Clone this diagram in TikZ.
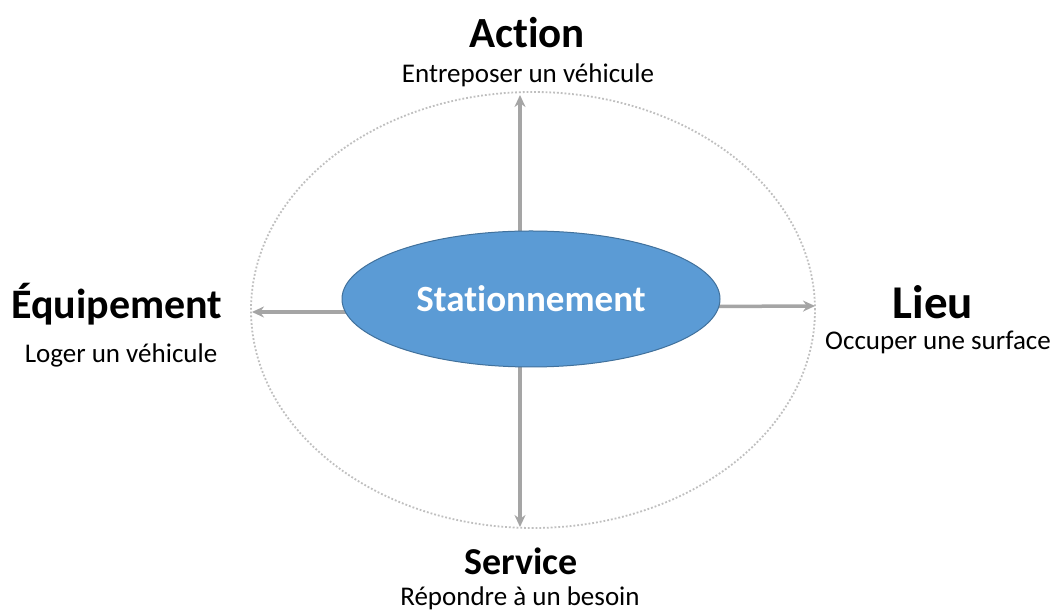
\documentclass[tikz,border=0pt]{standalone}
\usepackage{fontspec}
\setmainfont{Carlito}[Ligatures={NoCommon}]
\usetikzlibrary{arrows.meta,shapes.geometric}
\definecolor{blueFill}{HTML}{5B9BD5}
\definecolor{blueLine}{HTML}{41719C}
\definecolor{arrowGray}{HTML}{A5A5A5}
\definecolor{dotGray}{HTML}{BFBFBF}
\tikzset{
  conn/.style={draw=arrowGray, line width=3.5pt, -{Stealth[length=12pt,width=11pt]}},
  title/.style={font=\fontsize{#1}{#1}\selectfont\bfseries, inner sep=0pt},
  title/.default=42,
  sub/.style={font=\fontsize{27}{29}\selectfont, inner sep=0pt},
  core/.style={ellipse, draw=blueLine, line width=1pt, fill=blueFill, text=white,
    minimum width=378pt, minimum height=136pt, inner sep=0pt,
    font=\fontsize{37}{39}\selectfont\bfseries}
}
\begin{document}
\begin{tikzpicture}[x=1pt,y=1pt]
\useasboundingbox (0,0) rectangle (1053,612);
\fill[white] (0,0) rectangle (1053,612);
% outer dotted ellipse
\draw[dotGray, line width=1.8pt, dotted] (533,302) ellipse [x radius=282, y radius=218];
% arrow coordinates
\coordinate (sT) at (520,300);
\coordinate (eT) at (520,517);
\coordinate (sB) at (520,300);
\coordinate (eB) at (520,85);
\coordinate (sL) at (450,300);
\coordinate (eL) at (252,300);
\coordinate (sR) at (610,305);
\coordinate (eR) at (815,306);
\draw[conn] (sT) -- (eT);
\draw[conn] (sB) -- (eB);
\draw[conn] (sL) -- (eL);
\draw[conn] (sR) -- (eR);
% central ellipse
\node[core] (st) at (531,313) {Stationnement};
% labels
\node[title=43] (action) at (527,579) {Action};
\node[sub] (actionS) at (528,537) {Entreposer un véhicule};
\node[title=42] (equip) at (117,308) {Équipement};
\node[sub] (equipS) at (121,257) {Loger un véhicule};
\node[title=47] (lieu) at (933,310) {Lieu};
\node[sub] (lieuS) at (938,270) {Occuper une surface};
\node[title=38] (service) at (521,51) {Service};
\node[sub] (serviceS) at (520,14) {Répondre à un besoin};
\end{tikzpicture}
\end{document}
